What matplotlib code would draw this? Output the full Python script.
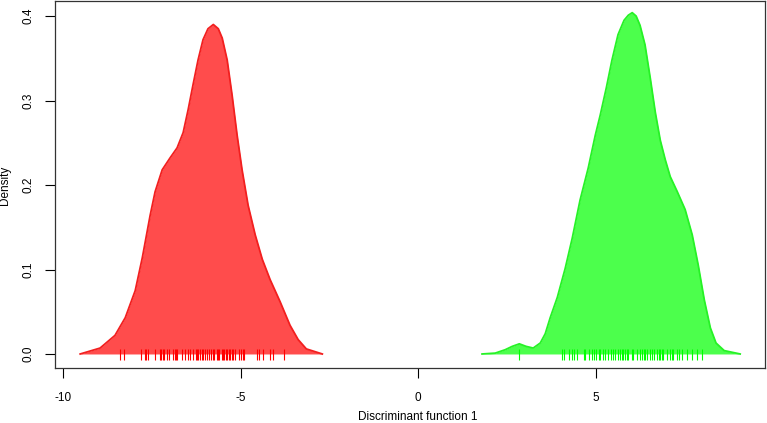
import numpy as np
import matplotlib
matplotlib.use("Agg")
import matplotlib.pyplot as plt
from matplotlib import rc

rc('font', **{'family': 'sans-serif', 'sans-serif': ['Liberation Sans', 'DejaVu Sans']})

# density outline of group 1 (red)
red_x = [-9.52, -8.96, -8.54, -8.25, -7.97, -7.77, -7.55, -7.41, -7.21, -6.99,
         -6.79, -6.62, -6.48, -6.34, -6.20, -6.06, -5.92, -5.77, -5.63, -5.52,
         -5.38, -5.24, -5.10, -4.96, -4.79, -4.59, -4.39, -4.17, -3.89, -3.61,
         -3.38, -3.15, -2.70]
red_y = [0.000, 0.007, 0.022, 0.043, 0.075, 0.114, 0.164, 0.192, 0.218, 0.232,
         0.244, 0.262, 0.289, 0.319, 0.348, 0.372, 0.385, 0.390, 0.385, 0.374,
         0.348, 0.306, 0.259, 0.218, 0.176, 0.141, 0.112, 0.088, 0.062, 0.034,
         0.017, 0.006, 0.000]

# density outline of group 2 (green)
green_x = [1.80, 2.17, 2.45, 2.65, 2.85, 3.04, 3.24, 3.44, 3.58, 3.72,
           3.92, 4.14, 4.34, 4.56, 4.79, 4.99, 5.13, 5.30, 5.46, 5.63,
           5.80, 5.92, 6.03, 6.14, 6.25, 6.39, 6.54, 6.68, 6.82, 6.96,
           7.10, 7.30, 7.52, 7.72, 7.89, 8.06, 8.23, 8.39, 8.62, 9.07]
green_y = [0.000, 0.001, 0.005, 0.009, 0.012, 0.009, 0.007, 0.013, 0.024, 0.043,
           0.067, 0.101, 0.137, 0.182, 0.220, 0.259, 0.283, 0.315, 0.348, 0.378,
           0.395, 0.401, 0.404, 0.400, 0.389, 0.366, 0.326, 0.286, 0.253, 0.230,
           0.210, 0.192, 0.171, 0.141, 0.105, 0.064, 0.031, 0.013, 0.004, 0.000]

# rug (individual scores)
red_rug = [-8.41, -8.30, -7.80, -7.70, -7.66, -7.62, -7.42, -7.28, -7.24, -7.19,
           -7.15, -7.08, -7.01, -6.92, -6.86, -6.83, -6.79, -6.66, -6.58, -6.48,
           -6.44, -6.33, -6.26, -6.23, -6.19, -6.14, -6.09, -6.05, -6.00, -5.95,
           -5.88, -5.83, -5.79, -5.74, -5.67, -5.63, -5.60, -5.53, -5.49, -5.46,
           -5.42, -5.38, -5.34, -5.30, -5.25, -5.21, -5.15, -5.06, -4.99, -4.94,
           -4.90, -4.54, -4.48, -4.36, -4.17, -4.09, -3.77]
green_rug = [2.85, 4.04, 4.11, 4.26, 4.33, 4.39, 4.47, 4.66, 4.70, 4.80,
             4.89, 4.94, 5.01, 5.08, 5.13, 5.22, 5.27, 5.36, 5.44, 5.50,
             5.55, 5.64, 5.69, 5.74, 5.78, 5.83, 5.88, 5.92, 6.02, 6.06,
             6.16, 6.25, 6.30, 6.35, 6.39, 6.44, 6.54, 6.58, 6.65, 6.72,
             6.77, 6.82, 6.86, 6.91, 7.01, 7.08, 7.15, 7.19, 7.29, 7.36,
             7.43, 7.57, 7.71, 7.85, 7.99]

x_ticks = [-10, -5, 0, 5]
y_ticks = [0.0, 0.1, 0.2, 0.3, 0.4]


def plot():
	fig = plt.figure(figsize=(7.67, 4.23), dpi=100)
	ax = fig.add_axes([0.0717, 0.130, 0.9257, 0.8676])

	ax.fill_between(red_x, red_y, 0, color=(1, 0, 0, 0.7), linewidth=0)
	ax.plot(red_x, red_y, color=(0.95, 0.12, 0.12), lw=1.3, solid_joinstyle='round')
	ax.fill_between(green_x, green_y, 0, color=(0, 1, 0, 0.7), linewidth=0)
	ax.plot(green_x, green_y, color=(0.15, 0.95, 0.15), lw=1.3, solid_joinstyle='round')

	ax.vlines(red_rug, -0.007, 0.006, color='red', lw=0.8)
	ax.vlines(green_rug, -0.007, 0.006, color='#00ff00', lw=0.8)

	ax.set_xlim(-10.23, 9.77)
	ax.set_ylim(-0.0166, 0.4178)
	ax.set_xticks(x_ticks)
	ax.set_xticklabels(['-10', '-5', '0', '5'])
	ax.set_yticks(y_ticks)
	ax.set_yticklabels(['0.0', '0.1', '0.2', '0.3', '0.4'], rotation=90, va='center')
	ax.tick_params(direction='out', length=7, width=0.8, labelsize=8.5)
	ax.tick_params(axis='x', pad=10)
	ax.tick_params(axis='y', pad=8)
	for s in ax.spines.values():
		s.set_color('#333333')
		s.set_linewidth(0.9)

	fig.text(418 / 767, 1 - 417 / 423, "Discriminant function 1", fontsize=8.5, ha='center', va='center')
	fig.text(5 / 767, 1 - 185 / 423, "Density", fontsize=8.5, rotation=90, ha='center', va='center')

	plt.savefig("out.png", dpi=100)


if __name__ == "__main__":
	plot()
